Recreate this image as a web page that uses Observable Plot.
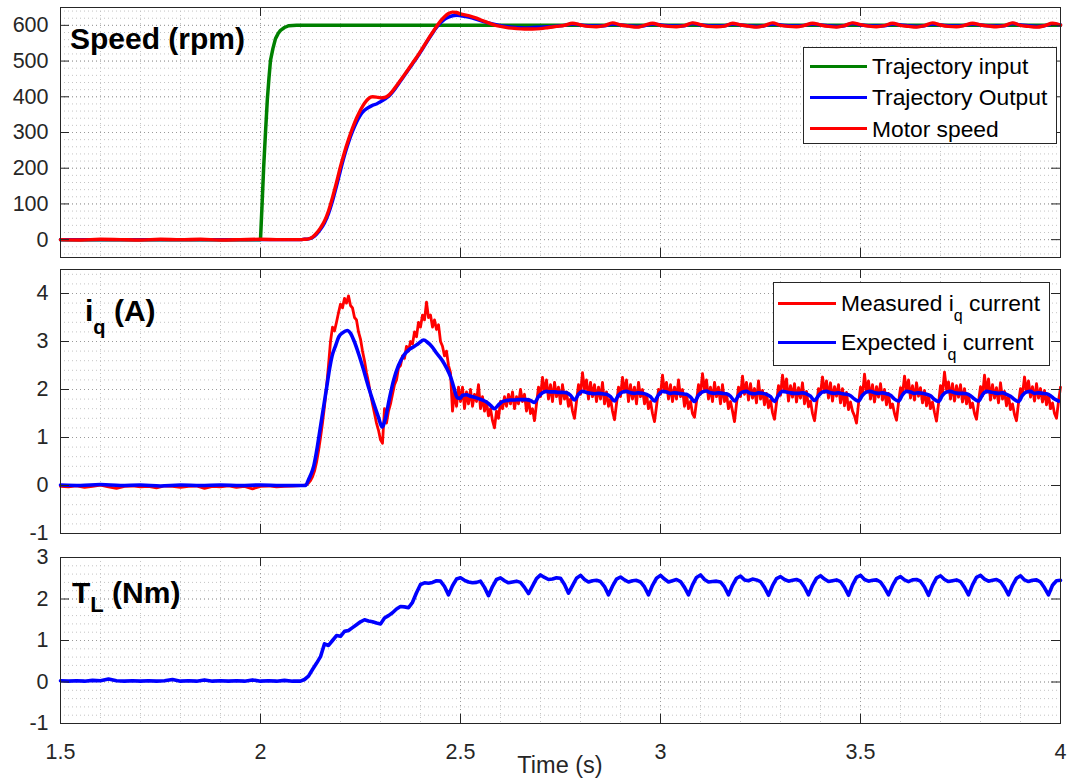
<!DOCTYPE html>
<html><head><meta charset="utf-8">
<script src="https://cdn.jsdelivr.net/npm/d3@7"></script>
<script src="https://cdn.jsdelivr.net/npm/@observablehq/plot@0.6"></script>
<style>
html,body{margin:0;padding:0;background:#fff;}
#wrap{position:relative;width:1068px;height:778px;font-family:"Liberation Sans",Arial,sans-serif;overflow:hidden;background:#fff;}
.panel{position:absolute;left:0;}
.title{position:absolute;font-weight:bold;font-size:30px;line-height:30px;color:#000;white-space:nowrap;}
.sub{position:relative;}
.legend{position:absolute;box-sizing:border-box;border:1px solid #262626;background:#fff;}
.sw{position:absolute;height:3px;}
.lt{position:absolute;font-size:22.8px;line-height:24px;color:#000;white-space:nowrap;}
.xlabel{position:absolute;font-size:23.5px;line-height:26px;color:#262626;white-space:nowrap;}
</style></head>
<body><div id="wrap"></div>
<script>
// ---------------- axis ticks ----------------
const xTicks = [1.5, 2, 2.5, 3, 3.5, 4];
const speedTicks = [0, 100, 200, 300, 400, 500, 600];
const iqTicks = [-1, 0, 1, 2, 3, 4];
const tlTicks = [-1, 0, 1, 2, 3];

// ---------------- Speed (rpm) ----------------
const speedTrajInput = [[1.5,0],[2.0,0],[2.004,100],[2.008,204],[2.0125,300],[2.017,391],[2.021,450],[2.025,502],[2.031,535],[2.0375,563],[2.044,577],[2.05,586],[2.06,594],[2.071,599],[2.09,600],[4.0,600]];

const speedTrajOutTransient = [[1.5,0],[1.8,0],[2.1,0],[2.11,1],[2.12,2],[2.13,6],[2.14,15],[2.15,29],[2.16,47],[2.17,73],[2.18,108],[2.19,150],[2.2,194],[2.21,236],[2.22,272],[2.23,303],[2.24,329],[2.25,349],[2.26,362],[2.27,370],[2.28,376],[2.29,380],[2.3,386],[2.31,393],[2.32,401],[2.33,413],[2.34,428],[2.35,444],[2.36,460],[2.37,476],[2.38,492],[2.39,508],[2.4,525],[2.41,543],[2.42,561],[2.43,578],[2.44,594],[2.45,607],[2.46,617],[2.47,623],[2.48,627],[2.49,628],[2.5,627],[2.52,623],[2.54,617],[2.56,610],[2.58,604],[2.6,599],[2.62,596],[2.64,594],[2.66,593],[2.68,594]];
const speedSteadyStart = 2.70, speedSteadyStep = 0.02;
const speedTrajOutSteady = [
  595,596,598,600,604, 601,599,598,599,604, 601,599,597,599,604, 601,599,598,599,605,
  601,599,598,599,604, 601,599,597,599,604, 601,599,598,600,604, 601,599,597,599,605,
  601,599,598,599,604, 601,599,597,599,604, 601,599,598,600,604, 601,599,598,599,605,
  601,599,597,599,604, 601];

const speedMotorTransient = [[1.5,0],[1.55,-1],[1.6,1],[1.65,0],[1.7,-1],[1.75,1],[1.8,0],[1.85,1],[1.9,-1],[1.95,0],[2.0,1],[2.05,0],[2.1,0],[2.11,1],[2.12,2],[2.13,7],[2.14,18],[2.15,33],[2.16,52],[2.17,80],[2.18,118],[2.19,160],[2.2,205],[2.21,245],[2.22,280],[2.23,312],[2.24,340],[2.25,363],[2.26,382],[2.27,395],[2.28,400],[2.29,399],[2.3,397],[2.31,398],[2.32,404],[2.33,416],[2.34,431],[2.35,446],[2.36,462],[2.37,478],[2.38,494],[2.39,510],[2.4,527],[2.41,545],[2.42,563],[2.43,580],[2.44,597],[2.45,612],[2.46,624],[2.47,633],[2.48,637],[2.49,636],[2.5,632],[2.52,627],[2.54,620],[2.56,611],[2.58,603],[2.6,597],[2.62,593],[2.64,591],[2.66,590],[2.68,590]];
const speedMotorSteady = [
  591,594,597,600,606, 601,597,596,599,607, 601,598,595,600,606, 600,597,596,599,607,
  602,597,596,598,606, 601,598,595,599,607, 600,597,596,600,606, 601,597,595,599,607,
  602,598,596,599,606, 600,597,595,599,607, 601,597,596,600,606, 601,598,596,599,607,
  600,597,595,599,606, 601];

// ---------------- i_q (A) ----------------
const iqExpectedTransient = [[1.5,0.01],[1.55,0.0],[1.6,0.02],[1.65,0.0],[1.7,0.01],[1.75,-0.01],[1.8,0.01],[1.85,0.0],[1.9,0.01],[1.95,0.0],[2.0,0.01],[2.05,0.0],[2.1,0.0],[2.1125,0.0],[2.12,0.12],[2.127,0.25],[2.133,0.4],[2.14,0.7],[2.15,1.23],[2.158,1.65],[2.167,2.13],[2.173,2.45],[2.179,2.7],[2.188,2.92],[2.196,3.1],[2.205,3.18],[2.217,3.23],[2.225,3.17],[2.233,3.03],[2.245,2.75],[2.258,2.4],[2.27,2.05],[2.283,1.71],[2.295,1.42],[2.304,1.22],[2.3125,1.4],[2.322,1.8],[2.333,2.2],[2.345,2.5],[2.358,2.71],[2.37,2.82],[2.383,2.89],[2.395,2.96],[2.408,3.03],[2.418,2.98],[2.429,2.89],[2.44,2.76],[2.454,2.61],[2.465,2.45],[2.475,2.27],[2.483,2.05],[2.492,1.83],[2.5,1.82]];
const iqExpectedSteadyStart = 2.505, iqExpectedStep = 0.01;
const iqExpectedSteady = [
  1.88,1.89,1.86,1.84,1.81,1.78,1.74,1.67,1.60,1.68,
  1.75,1.77,1.78,1.78,1.79,1.79,1.79,1.77,1.73,1.85,
  1.93,1.96,1.95,1.95,1.94,1.94,1.93,1.88,1.78,1.90,
  1.96,1.94,1.92,1.91,1.92,1.91,1.90,1.85,1.76,1.88,
  1.95,1.96,1.93,1.92,1.93,1.92,1.90,1.85,1.76,1.89,
  1.96,1.95,1.92,1.93,1.92,1.91,1.90,1.84,1.75,1.88,
  1.95,1.97,1.93,1.92,1.93,1.92,1.91,1.86,1.76,1.87,
  1.95,1.96,1.92,1.91,1.93,1.92,1.90,1.85,1.75,1.88,
  1.96,1.95,1.93,1.92,1.92,1.93,1.91,1.86,1.77,1.87,
  1.95,1.96,1.93,1.92,1.93,1.91,1.90,1.87,1.80,1.76,
  1.88,1.95,1.96,1.93,1.92,1.93,1.91,1.88,1.80,1.76,
  1.89,1.96,1.95,1.92,1.93,1.92,1.90,1.87,1.79,1.75,
  1.88,1.95,1.96,1.93,1.92,1.92,1.91,1.87,1.80,1.76,
  1.89,1.96,1.95,1.93,1.92,1.93,1.90,1.86,1.79,1.75,
  1.88,1.95,1.96,1.92,1.93,1.92,1.91,1.87,1.80,1.76];

const iqMeasuredFlatStart = 1.5, iqMeasuredFlatStep = 0.02;
const iqMeasuredFlat = [-0.02,-0.03,-0.01,-0.04,-0.02,0.01,-0.03,-0.06,-0.02,-0.01,-0.03,-0.02,-0.05,-0.01,-0.02,-0.04,-0.02,-0.01,-0.06,-0.02,-0.03,-0.01,-0.04,-0.02,-0.07,-0.02,-0.01,-0.03,-0.02,-0.01,0.0];
const iqMeasuredStart = 2.105, iqMeasuredStep = 0.005;
const iqMeasured = [
  0.00,0.01,0.02,0.05,0.10,0.18,0.30,0.48,0.72,1.00,
  1.30,1.65,2.05,2.50,3.00,3.30,3.22,3.40,3.60,3.78,
  3.70,3.90,3.80,3.95,3.75,3.70,3.50,3.45,3.20,3.05,
  2.80,2.60,2.35,2.15,1.90,1.70,1.50,1.30,1.15,0.95,
  0.88,1.60,1.30,1.55,1.70,1.90,2.10,2.20,2.45,2.50,
  2.70,2.65,2.90,2.80,3.00,2.95,3.20,3.10,3.40,3.30,
  3.55,3.45,3.82,3.50,3.55,3.30,3.45,3.25,3.35,3.00,
  2.90,2.70,2.80,2.50,2.35,1.55,1.95,1.65,2.05,1.75,
  2.05,1.60,1.95,1.70,2.00,1.65,1.90,1.75,2.10,1.60,1.85,1.55,1.75,1.45,1.60,1.35,1.20,1.55,1.40,1.75,
  1.60,1.85,1.65,1.90,1.70,1.95,1.60,1.85,1.70,2.00,1.75,1.90,1.55,1.80,1.50,1.60,1.35,1.70,2.05,1.85,
  2.25,1.95,2.20,1.80,2.10,1.75,2.15,1.85,2.05,1.70,2.10,1.80,1.95,1.65,1.80,1.55,1.40,1.75,2.10,1.90,
  2.35,2.00,2.20,1.80,2.15,1.85,2.10,1.75,2.05,1.80,2.15,1.70,1.95,1.65,1.80,1.55,1.37,1.70,2.05,1.85,
  2.25,1.95,2.20,1.75,2.10,1.80,2.05,1.70,2.15,1.85,2.00,1.70,1.90,1.60,1.75,1.50,1.33,1.65,2.00,1.90,
  2.30,1.95,2.15,1.80,2.10,1.75,2.05,1.80,2.20,1.85,2.00,1.65,1.90,1.60,1.75,1.50,1.42,1.75,2.10,1.90,
  2.33,2.00,2.20,1.80,2.05,1.75,2.15,1.85,2.05,1.70,2.10,1.75,1.90,1.60,1.75,1.55,1.33,1.70,2.05,1.85,
  2.28,1.90,2.15,1.78,2.12,1.82,2.02,1.72,2.18,1.80,1.98,1.68,1.92,1.62,1.78,1.52,1.38,1.72,2.08,1.88,
  2.30,1.98,2.22,1.76,2.08,1.84,2.12,1.74,2.04,1.82,2.14,1.70,1.96,1.64,1.76,1.50,1.35,1.68,2.02,1.92,
  2.26,1.94,2.18,1.82,2.14,1.76,2.06,1.86,2.10,1.72,2.02,1.66,1.94,1.58,1.74,1.55,1.45,1.30,1.70,2.05,
  1.88,2.32,1.96,2.18,1.80,2.10,1.74,2.06,1.84,2.12,1.78,2.00,1.68,1.92,1.62,1.70,1.50,1.36,1.72,2.04,
  1.90,2.28,1.98,2.20,1.82,2.08,1.78,2.14,1.86,2.04,1.72,1.98,1.66,1.88,1.60,1.74,1.52,1.34,1.70,2.08,
  1.92,2.36,2.00,2.16,1.80,2.12,1.76,2.08,1.84,2.10,1.74,2.02,1.70,1.90,1.62,1.72,1.50,1.38,1.74,2.06,
  1.86,2.30,1.94,2.22,1.78,2.10,1.82,2.04,1.72,2.14,1.80,1.96,1.66,1.88,1.58,1.70,1.48,1.35,1.72,2.02,
  1.90,2.26,1.96,2.18,1.84,2.06,1.76,2.12,1.82,2.02,1.74,1.98,1.68,1.90,1.60,1.72,1.50,1.40,1.75,2.05];

// ---------------- T_L (Nm) ----------------
const tlFlatStart = 1.5, tlFlatStep = 0.02;
const tlFlat = [0.03,0.02,0.03,0.02,0.04,0.03,0.07,0.03,0.02,0.03,0.02,0.03,0.02,0.03,0.06,0.02,0.03,0.02,0.05,0.02,0.03,0.02,0.03,0.02,0.05,0.02,0.03,0.02,0.04,0.02];
const tlStart = 2.10, tlStep = 0.01;
const tl = [
  0.02,0.06,0.14,0.30,0.45,0.61,0.92,0.88,1.00,1.12,
  1.10,1.22,1.24,1.31,1.38,1.45,1.50,1.47,1.45,1.42,
  1.40,1.54,1.60,1.67,1.76,1.82,1.81,1.79,1.92,2.15,
  2.35,2.39,2.38,2.40,2.44,2.43,2.30,2.10,2.32,2.48,
  2.51,2.45,2.41,2.39,2.40,2.43,2.28,2.08,2.30,2.47,
  2.51,2.44,2.39,2.41,2.43,2.40,2.28,2.13,2.31,2.49,
  2.58,2.52,2.47,2.48,2.51,2.50,2.35,2.14,2.32,2.50,
  2.57,2.47,2.41,2.44,2.45,2.42,2.30,2.10,2.31,2.48,
  2.53,2.46,2.41,2.44,2.45,2.41,2.29,2.10,2.33,2.50,
  2.57,2.48,2.41,2.44,2.47,2.42,2.28,2.10,2.34,2.52,
  2.58,2.47,2.41,2.42,2.43,2.41,2.29,2.10,2.33,2.50,
  2.55,2.46,2.44,2.48,2.46,2.42,2.28,2.09,2.32,2.49,
  2.54,2.47,2.43,2.45,2.47,2.43,2.29,2.10,2.33,2.50,
  2.56,2.48,2.42,2.44,2.46,2.42,2.28,2.09,2.34,2.52,
  2.57,2.47,2.43,2.45,2.46,2.41,2.27,2.10,2.32,2.49,
  2.54,2.46,2.42,2.46,2.47,2.43,2.29,2.09,2.33,2.51,
  2.56,2.47,2.42,2.44,2.46,2.42,2.28,2.10,2.34,2.52,
  2.57,2.48,2.43,2.45,2.47,2.42,2.28,2.10,2.33,2.50,
  2.56,2.46,2.42,2.45,2.46,2.41,2.27,2.10,2.33,2.44,
  2.45];

// ---------------- helpers ----------------
const pairs = (p) => p.map(([t, v]) => ({t, v}));
const grid = (t0, dt, vals) => vals.map((v, i) => ({t: +(t0 + i * dt).toFixed(4), v}));

const W = 1068, ML = 60, MR = 8;
const xMinor = d3.range(15, 41).map(d => d / 10);
const FONT = '"Liberation Sans", Arial, sans-serif';
const INK = "#262626";

function panel({height, mt, mb, yDomain, yTicks, yMinor, lines, showX}) {
  const innerW = W - ML - MR;
  const innerH = height - mt - mb;
  const marks = [
    Plot.ruleX(xMinor, {x: d => d, stroke: "#c4c4c4", strokeDasharray: "1,3"}),
    Plot.ruleY(yMinor, {y: d => d, stroke: "#c4c4c4", strokeDasharray: "1,3"}),
    Plot.ruleX(xTicks, {x: d => d, stroke: "#9a9a9a", strokeDasharray: "1,3"}),
    Plot.ruleY(yTicks, {y: d => d, stroke: "#9a9a9a", strokeDasharray: "1,3"}),
    ...lines,
    Plot.tickX(xTicks, {x: d => d, insetBottom: innerH - 9, stroke: INK}),
    Plot.tickX(xTicks, {x: d => d, insetTop: innerH - 9, stroke: INK}),
    Plot.tickY(yTicks, {y: d => d, insetRight: innerW - 9, stroke: INK}),
    Plot.tickY(yTicks, {y: d => d, insetLeft: innerW - 9, stroke: INK}),
    Plot.frame({stroke: INK, strokeWidth: 1}),
    Plot.axisY(yTicks, {tickSize: 0, tickPadding: 12, fontSize: 21.5, color: INK, label: null, tickFormat: d => String(d)})
  ];
  if (showX) marks.push(Plot.axisX(xTicks, {tickSize: 0, tickPadding: 20, fontSize: 21.5, color: INK, label: null, tickFormat: d => String(d)}));
  return Plot.plot({
    width: W, height, marginTop: mt, marginBottom: mb, marginLeft: ML, marginRight: MR,
    x: {domain: [1.5, 4], axis: null},
    y: {domain: yDomain, axis: null},
    style: {fontFamily: FONT, background: "transparent", overflow: "visible", color: INK},
    marks
  });
}

const wrap = document.getElementById("wrap");
function place(el, top) { el.classList.add("panel"); el.style.top = top + "px"; wrap.appendChild(el); }

// Panel 1: speed
place(panel({
  height: 262, mt: 7, mb: 5, yDomain: [-50, 650], yTicks: speedTicks,
  yMinor: d3.range(-40, 641, 20), showX: false,
  lines: [
    Plot.line(pairs(speedTrajInput), {x: "t", y: "v", stroke: "#008000", strokeWidth: 3.5}),
    Plot.line(pairs(speedTrajOutTransient).concat(grid(speedSteadyStart, speedSteadyStep, speedTrajOutSteady)), {x: "t", y: "v", stroke: "#0000ff", strokeWidth: 3.4, curve: "monotone-x"}),
    Plot.line(pairs(speedMotorTransient).concat(grid(speedSteadyStart, speedSteadyStep, speedMotorSteady)), {x: "t", y: "v", stroke: "#ff0000", strokeWidth: 3.4, curve: "monotone-x"})
  ]
}), 0);

// Panel 2: iq
place(panel({
  height: 276, mt: 7, mb: 5, yDomain: [-1, 4.5], yTicks: iqTicks,
  yMinor: d3.range(-10, 45, 2).map(d => d / 10), showX: false,
  lines: [
    Plot.line(grid(iqMeasuredFlatStart, iqMeasuredFlatStep, iqMeasuredFlat).concat(grid(iqMeasuredStart, iqMeasuredStep, iqMeasured)), {x: "t", y: "v", stroke: "#ff0000", strokeWidth: 2.8}),
    Plot.line(pairs(iqExpectedTransient).concat(grid(iqExpectedSteadyStart, iqExpectedStep, iqExpectedSteady)), {x: "t", y: "v", stroke: "#0000ff", strokeWidth: 3.6, curve: "monotone-x"})
  ]
}), 262);

// Panel 3: T_L
place(panel({
  height: 240, mt: 19, mb: 55, yDomain: [-1, 3], yTicks: tlTicks,
  yMinor: d3.range(-10, 31, 2).map(d => d / 10), showX: true,
  lines: [
    Plot.line(grid(tlFlatStart, tlFlatStep, tlFlat).concat(grid(tlStart, tlStep, tl)), {x: "t", y: "v", stroke: "#0000ff", strokeWidth: 3.6})
  ]
}), 538);

// Titles, legends, x label
function addHTML(html) { const d = document.createElement("div"); d.innerHTML = html; const el = d.firstElementChild; wrap.appendChild(el); return el; }
addHTML('<div class="title" style="left:70px;top:24px">Speed (rpm)</div>');
addHTML('<div class="title" style="left:85px;top:296px">i<span class="sub" style="font-size:20px;top:13px">q</span> (A)</div>');
addHTML('<div class="title" style="left:72px;top:578px">T<span class="sub" style="font-size:22px;top:9px">L</span> (Nm)</div>');

addHTML('<div class="legend" style="left:803px;top:47px;width:254px;height:97px">' +
  '<div class="sw" style="left:6px;top:16.5px;width:57px;background:#008000"></div><div class="lt" style="left:68px;top:6px">Trajectory input</div>' +
  '<div class="sw" style="left:6px;top:47.5px;width:57px;background:#0000ff"></div><div class="lt" style="left:68px;top:37px">Trajectory Output</div>' +
  '<div class="sw" style="left:6px;top:79px;width:57px;background:#ff0000"></div><div class="lt" style="left:68px;top:68.5px">Motor speed</div>' +
  '</div>');
addHTML('<div class="legend" style="left:773px;top:282px;width:277px;height:84px">' +
  '<div class="sw" style="left:4px;top:18.5px;width:58px;background:#ff0000"></div><div class="lt" style="left:67px;top:8px">Measured i<span class="sub" style="font-size:16px;top:10px">q</span> current</div>' +
  '<div class="sw" style="left:4px;top:57.5px;width:58px;background:#0000ff"></div><div class="lt" style="left:67px;top:47px">Expected i<span class="sub" style="font-size:16px;top:10px">q</span> current</div>' +
  '</div>');

addHTML('<div class="xlabel" style="left:0;width:1120px;text-align:center;top:752px">Time (s)</div>');
</script>
</body></html>
